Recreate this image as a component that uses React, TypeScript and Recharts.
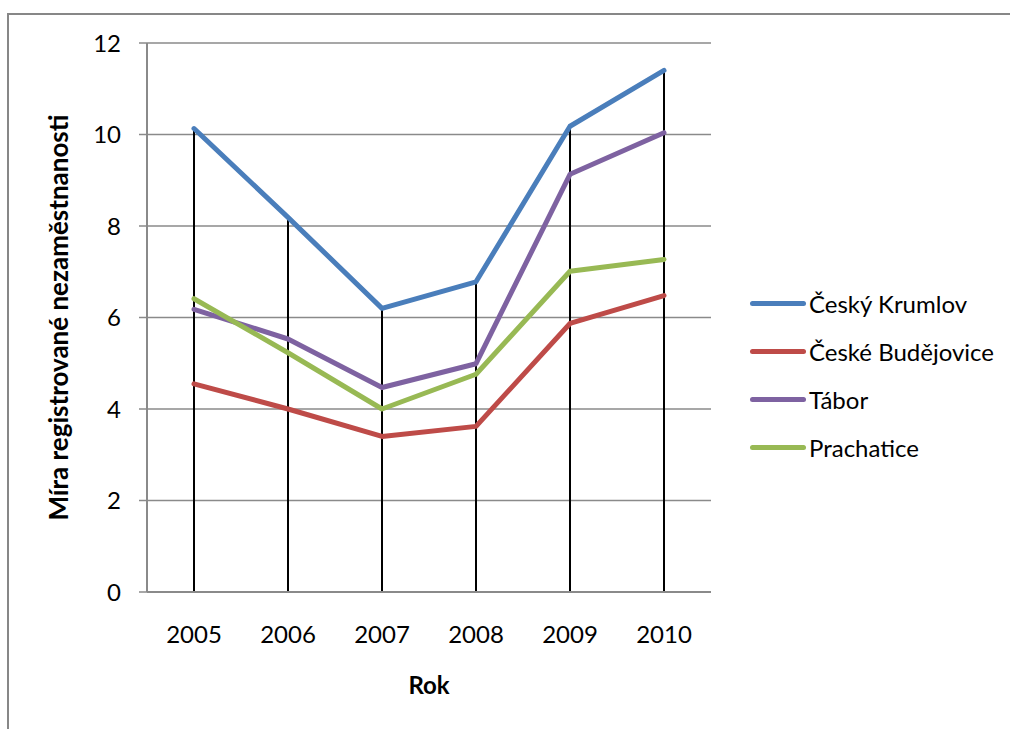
import { ComposedChart, Line, Bar, XAxis, YAxis, CartesianGrid, Legend } from "recharts";

const years = ["2005", "2006", "2007", "2008", "2009", "2010"];
const ceskyKrumlov = [10.13, 8.19, 6.2, 6.78, 10.18, 11.4];
const ceskeBudejovice = [4.55, 4.0, 3.4, 3.62, 5.87, 6.48];
const tabor = [6.18, 5.53, 4.47, 4.99, 9.13, 10.04];
const prachatice = [6.41, 5.23, 4.0, 4.76, 7.01, 7.27];
const yTicks = [0, 2, 4, 6, 8, 10, 12];

const series = [
  { key: "ck", name: "Český Krumlov", color: "#4a7ebb", values: ceskyKrumlov },
  { key: "cb", name: "České Budějovice", color: "#be4b48", values: ceskeBudejovice },
  { key: "ta", name: "Tábor", color: "#7e62a1", values: tabor },
  { key: "pr", name: "Prachatice", color: "#98b954", values: prachatice },
];

const data = years.map((year, i) => {
  const row: Record<string, string | number> = { year };
  series.forEach((s) => (row[s.key] = s.values[i]));
  // drop line goes from the axis up to the highest point in that year
  row.drop = Math.max(...series.map((s) => s.values[i]));
  return row;
});

const font = "Lato, 'Open Sans', sans-serif";

function LegendList({ payload }: any) {
  const names = series.map((s) => s.name);
  const items = (payload || [])
    .filter((p: any) => p.type !== "none")
    .sort((a: any, b: any) => names.indexOf(a.value) - names.indexOf(b.value));
  return (
    <div style={{ fontFamily: font, fontSize: 24, color: "#000" }}>
      {items.map((p: any) => (
        <div key={p.value} style={{ display: "flex", alignItems: "center", height: 48 }}>
          <span
            style={{
              display: "inline-block",
              width: 56,
              height: 5,
              borderRadius: 3,
              background: p.color,
              marginRight: 3,
            }}
          />
          <span>{p.value}</span>
        </div>
      ))}
    </div>
  );
}

function YTitle({ viewBox }: any) {
  const cx = viewBox.x + 68;
  const cy = viewBox.y + viewBox.height / 2;
  return (
    <text
      x={cx}
      y={cy}
      transform={`rotate(-90 ${cx} ${cy})`}
      textAnchor="middle"
      fontFamily={font}
      fontSize={26}
      fontWeight="bold"
      fill="#000"
    >
      Míra registrované nezaměstnanosti
    </text>
  );
}

export default function App() {
  return (
    <div style={{ position: "absolute", left: 0, top: 0, width: 1010, height: 729, overflow: "hidden", background: "#fff" }}>
      <div
        style={{
          position: "absolute",
          left: 7,
          top: 13,
          width: 1020,
          height: 740,
          borderLeft: "2px solid #878787",
          borderTop: "2px solid #878787",
        }}
      />
      <div style={{ position: "absolute", left: 0, top: 0 }}>
        <ComposedChart
          width={1010}
          height={729}
          data={data}
          margin={{ top: 43, right: 299, bottom: 0, left: 0 }}
        >
          <CartesianGrid vertical={false} stroke="#8a8a8a" strokeWidth={1.5} />
          <XAxis
            dataKey="year"
            height={137}
            axisLine={{ stroke: "#8a8a8a", strokeWidth: 2 }}
            tickLine={false}
            tickSize={0}
            tickMargin={34}
            tick={{ fill: "#000", fontSize: 24, fontFamily: font }}
            label={{ value: "Rok", position: "insideTop", offset: 85, fill: "#000", fontSize: 24, fontWeight: "bold", fontFamily: font }}
          />
          <YAxis
            width={147}
            domain={[0, 12]}
            ticks={yTicks}
            interval={0}
            axisLine={{ stroke: "#8a8a8a", strokeWidth: 2 }}
            tickLine={{ stroke: "#8a8a8a", strokeWidth: 1.5 }}
            tickSize={8}
            tickMargin={18}
            tick={{ fill: "#000", fontSize: 24, fontFamily: font }}
            label={<YTitle />}
          />
          {series.map((s) => (
            <Line
              key={s.key}
              dataKey={s.key}
              name={s.name}
              stroke={s.color}
              strokeWidth={5}
              dot={false}
              activeDot={false}
              isAnimationActive={false}
              strokeLinejoin="round"
              strokeLinecap="round"
            />
          ))}
          <Bar dataKey="drop" barSize={2} fill="#000" legendType="none" isAnimationActive={false} />
          <Legend
            layout="vertical"
            align="center"
            verticalAlign="middle"
            content={<LegendList />}
            wrapperStyle={{ position: "absolute", left: 750, top: 279, width: 260 }}
          />
        </ComposedChart>
      </div>
    </div>
  );
}
